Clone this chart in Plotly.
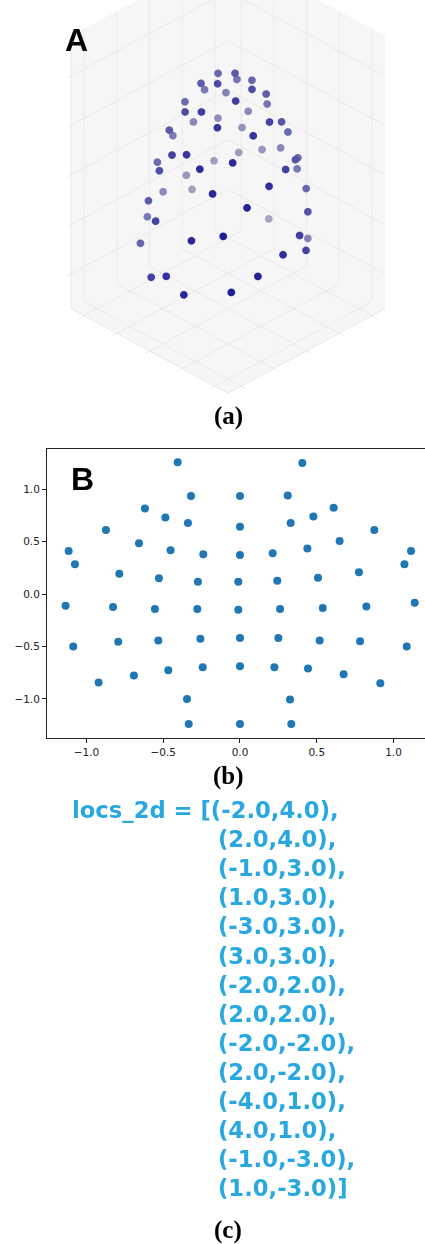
import numpy as np
import plotly.graph_objects as go

# ---------------- data ----------------
# Panel B: 2-D electrode layout
b_x = [-0.406, 0.406, -0.319, 0.0, 0.311, -0.619, 0.610, -0.486, 0.478, -0.339,
       0.330, 0.0, -0.873, 0.875, -0.658, 0.649, -1.116, 1.114, -0.452, 0.439,
       -0.239, 0.0, 0.213, -1.075, 1.071, -0.786, 0.775, -0.528, 0.508, -0.274,
       -0.011, 0.243, -1.136, 1.138, -0.827, 0.823, -0.554, 0.539, -0.278, -0.011,
       0.261, -1.086, 1.086, -0.793, 0.782, -0.532, 0.519, -0.258, 0.0, 0.250,
       -0.467, 0.443, -0.243, 0.0, 0.224, -0.691, 0.675, -0.921, 0.914, -0.345,
       0.326, -0.334, 0.0, 0.334]
b_y = [1.255, 1.248, 0.933, 0.933, 0.939, 0.815, 0.822, 0.729, 0.739, 0.678,
       0.678, 0.640, 0.611, 0.611, 0.484, 0.506, 0.411, 0.411, 0.417, 0.433,
       0.379, 0.373, 0.389, 0.283, 0.283, 0.194, 0.207, 0.150, 0.156, 0.118,
       0.118, 0.127, -0.111, -0.083, -0.124, -0.118, -0.143, -0.134, -0.143, -0.150,
       -0.143, -0.500, -0.500, -0.455, -0.449, -0.443, -0.443, -0.427, -0.420, -0.420,
       -0.726, -0.710, -0.697, -0.688, -0.697, -0.777, -0.764, -0.844, -0.850, -1.0,
       -1.006, -1.239, -1.239, -1.239]
b_ticks = [-1.0, -0.5, 0.0, 0.5, 1.0]

# Panel C: code listing values
locs_x = [-2.0, 2.0, -1.0, 1.0, -3.0, 3.0, -2.0, 2.0, -2.0, 2.0, -4.0, 4.0, -1.0, 1.0]
locs_y = [4.0, 4.0, 3.0, 3.0, 3.0, 3.0, 2.0, 2.0, -2.0, -2.0, 1.0, 1.0, -3.0, -3.0]

# ---------------- helpers ----------------
W, H = 425, 1244
def px(x):
    return x / W
def py(y):
    return 1 - y / H

# Panel A: 3-D positions of the same electrodes (inverse azimuthal projection of panel B)
bx = np.array(b_x)
by = np.array(b_y)
rad = np.hypot(bx, by)
ang = np.arctan2(by, bx)
p3x = np.sin(rad) * np.cos(ang)
p3y = np.sin(rad) * np.sin(ang)
p3z = np.cos(rad)

XYASP = 1.11
ZASP = 1.62
eye = dict(x=1.164, y=-1.164, z=0.89)
ev = np.array([eye['x'], eye['y'], eye['z'] / ZASP])
ev = ev / np.linalg.norm(ev)
depth = p3x * ev[0] + p3y * ev[1] + p3z * ev[2]
dn = (depth - depth.min()) / (depth.max() - depth.min())
near = np.array([30, 30, 150])
far = np.array([165, 165, 195])
cols3d = []
for t in dn:
    c = far + (near - far) * t
    cols3d.append(f"rgb({int(c[0])},{int(c[1])},{int(c[2])})")

fig = go.Figure()

fig.add_trace(go.Scatter3d(
    x=p3x, y=p3y, z=p3z, mode="markers",
    marker=dict(size=4.5, color=cols3d, line=dict(width=0)),
    showlegend=False, hoverinfo="skip", scene="scene"))

fig.add_trace(go.Scatter(
    x=b_x, y=b_y, mode="markers",
    marker=dict(size=8, color="#1f77b4"),
    showlegend=False, hoverinfo="skip", xaxis="x", yaxis="y"))

ax3 = dict(showbackground=True, backgroundcolor="#f6f6f6", gridcolor="#e9e9e9",
           showticklabels=False, ticks="outside", ticklen=5, tickcolor="#cfcfcf",
           showline=True, linecolor="#d6d6d6", zeroline=False, showspikes=False,
           title=dict(text=""))

fig.update_layout(
    width=W, height=H, margin=dict(l=0, r=0, t=0, b=0),
    paper_bgcolor="white", plot_bgcolor="white",
    scene=dict(
        domain=dict(x=[px(31), 1.0], y=[py(400), 1.0]),
        xaxis=dict(ax3, range=[-1.2, 1.2]),
        yaxis=dict(ax3, range=[-1.2, 1.2]),
        zaxis=dict(ax3, range=[0.06, 1.162]),
        aspectmode="manual", aspectratio=dict(x=XYASP, y=XYASP, z=ZASP),
        camera=dict(eye=eye, center=dict(x=0, y=0, z=-0.165),
                    up=dict(x=0, y=0, z=1),
                    projection=dict(type="orthographic")),
        bgcolor="white",
    ),
    xaxis=dict(domain=[px(47), 1.0], range=[-1.257, 1.205], anchor="y",
               tickvals=b_ticks, tickformat=".1f", ticks="outside", ticklen=4,
               tickcolor="#222", showline=True, linecolor="#222", mirror=True,
               showgrid=False, zeroline=False,
               tickfont=dict(family="DejaVu Sans", size=10.5, color="#222")),
    yaxis=dict(domain=[py(738), py(449)], range=[-1.372, 1.382], anchor="x",
               tickvals=b_ticks, tickformat=".1f", ticks="outside", ticklen=4,
               tickcolor="#222", showline=True, linecolor="#222",
               showgrid=False, zeroline=False,
               tickfont=dict(family="DejaVu Sans", size=10.5, color="#222")),
)

ann = []
ann.append(dict(text="<b>A</b>", x=px(63), y=py(40), xref="paper", yref="paper",
                xanchor="left", yanchor="middle", showarrow=False,
                font=dict(family="Liberation Sans, Arial", size=32, color="black")))
ann.append(dict(text="<b>B</b>", x=px(69), y=py(479), xref="paper", yref="paper",
                xanchor="left", yanchor="middle", showarrow=False,
                font=dict(family="Liberation Sans, Arial", size=32, color="black")))
for lbl, yc in (("(a)", 416), ("(b)", 776), ("(c)", 1230)):
    ann.append(dict(text=f"<b>{lbl}</b>", x=px(228), y=py(yc), xref="paper", yref="paper",
                    xanchor="center", yanchor="middle", showarrow=False,
                    font=dict(family="Liberation Serif, Times New Roman", size=25, color="black")))

code_col = "#29a8e0"
for i, (lx, ly) in enumerate(zip(locs_x, locs_y)):
    tup = f"({lx:.1f},{ly:.1f})"
    last = i == len(locs_x) - 1
    tail = "]" if last else ","
    yc = 810 + 29.1 * i
    if i == 0:
        txt = "locs_2d = [" + tup + tail
        x0 = 70
    else:
        txt = tup + tail
        x0 = 216
    ann.append(dict(text=f"<b>{txt}</b>", x=px(x0), y=py(yc), xref="paper", yref="paper",
                    xanchor="left", yanchor="middle", showarrow=False,
                    font=dict(family="DejaVu Sans", size=22.7, color=code_col)))

fig.update_layout(annotations=ann)
fig.write_html("out.html", config={"displayModeBar": False},
               post_script="document.body.style.margin='0';document.body.style.overflow='hidden';")
